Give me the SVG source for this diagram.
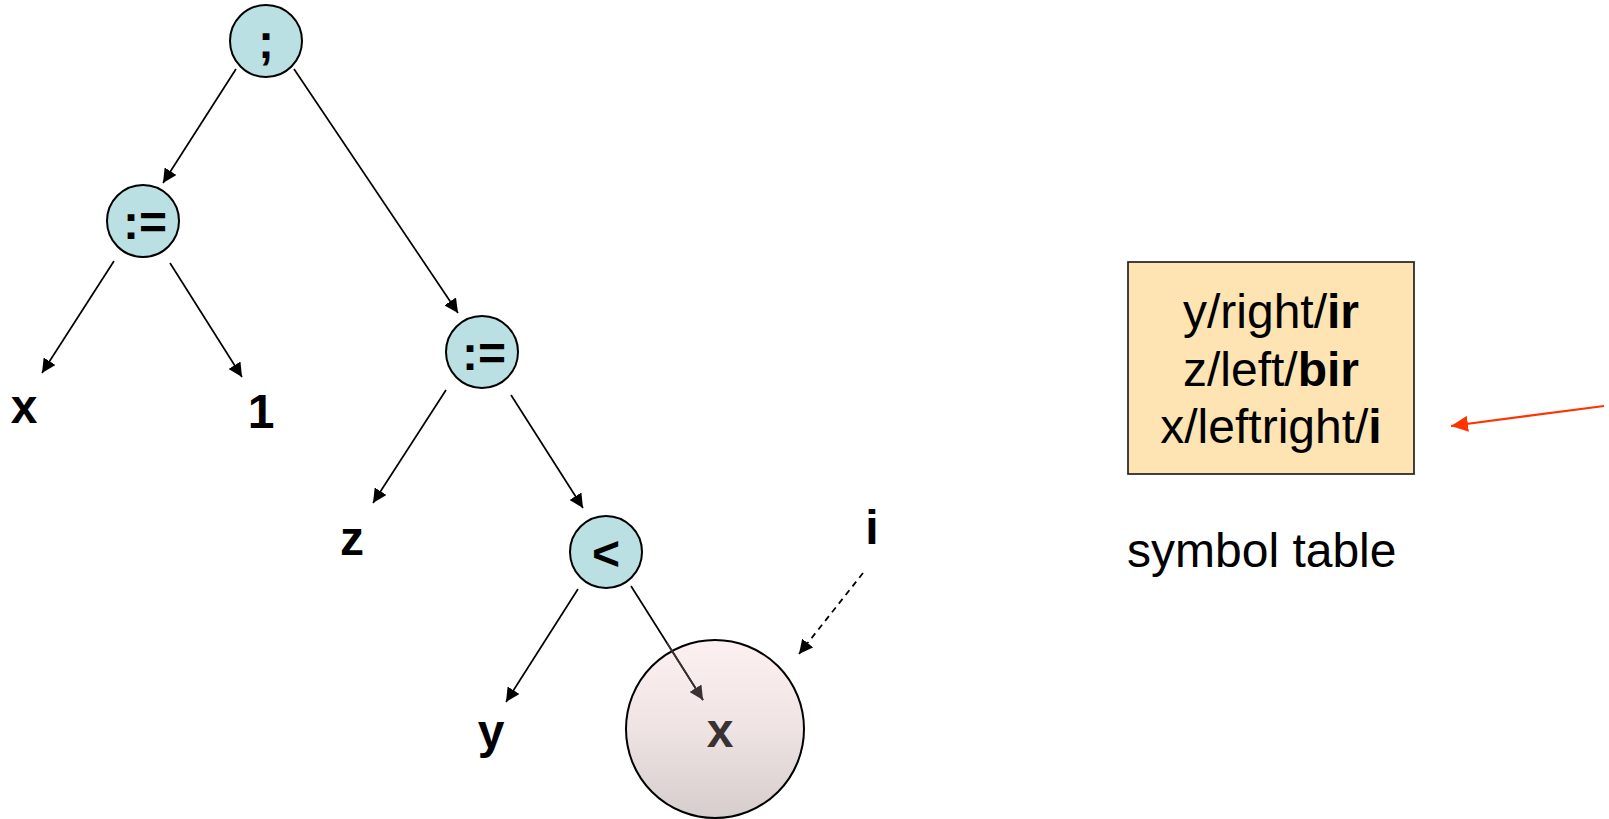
<svg xmlns="http://www.w3.org/2000/svg" width="1609" height="819" viewBox="0 0 1609 819">
<style>
.op{fill:#bae0e3;stroke:#000;stroke-width:2}
.lbl{font-family:"Liberation Sans",Arial,sans-serif;font-weight:bold;font-size:48px;fill:#000;text-anchor:middle}
.edge{stroke:#000;stroke-width:1.7;fill:none;marker-end:url(#ah)}
.tbl{font-family:"Liberation Sans",Arial,sans-serif;font-size:48px;fill:#000}
</style>
<defs>
<marker id="ah" markerUnits="userSpaceOnUse" markerWidth="15" markerHeight="14" refX="14" refY="7" orient="auto">
<path d="M0,0 L14,7 L0,14 z" fill="#000"/>
</marker>
<marker id="ahd" markerUnits="userSpaceOnUse" markerWidth="15" markerHeight="14" refX="14" refY="7" orient="auto">
<path d="M0,0 L14,7 L0,14 z" fill="#3a3232"/>
</marker>
<marker id="ahr" markerUnits="userSpaceOnUse" markerWidth="18" markerHeight="16" refX="17" refY="8" orient="auto">
<path d="M0,0 L17,8 L0,16 z" fill="#ff3300"/>
</marker>
<linearGradient id="pink" x1="0" y1="0" x2="0" y2="1">
<stop offset="0" stop-color="#fcf0f0"/>
<stop offset="0.5" stop-color="#efe3e3"/>
<stop offset="1" stop-color="#d6cdcd"/>
</linearGradient>
</defs>

<g id="node-root"><circle class="op" cx="266" cy="41" r="36"/><text class="lbl" x="266" y="58">;</text></g>
<g id="node-assign1"><circle class="op" cx="143" cy="221" r="36"/><text class="lbl" x="145" y="239">:=</text></g>
<g id="node-assign2"><circle class="op" cx="482" cy="352" r="36"/><text class="lbl" x="484" y="370">:=</text></g>
<g id="node-lt"><circle class="op" cx="606" cy="552" r="36"/><text class="lbl" x="606" y="570">&lt;</text></g>
<g id="node-x1"><text class="lbl" x="24" y="423">x</text></g>
<g id="node-one"><text class="lbl" x="261" y="428">1</text></g>
<g id="node-z"><text class="lbl" x="352" y="555">z</text></g>
<g id="node-y"><text class="lbl" x="491" y="748">y</text></g>
<g id="node-i"><text class="lbl" x="872" y="544">i</text></g>
<g id="node-x2"><circle cx="715" cy="729" r="89" fill="url(#pink)" stroke="#000" stroke-width="2"/><text class="lbl" x="720" y="747" style="fill:#3a3232">x</text></g>
<g id="node-table">
<rect x="1128" y="262" width="286" height="212" fill="#fee4b3" stroke="#222" stroke-width="1.7"/>
<text class="tbl" x="1271" y="328" text-anchor="middle">y/right/<tspan font-weight="bold">ir</tspan></text>
<text class="tbl" x="1271" y="386" text-anchor="middle">z/left/<tspan font-weight="bold">bir</tspan></text>
<text class="tbl" x="1271" y="443" text-anchor="middle">x/leftright/<tspan font-weight="bold">i</tspan></text>
</g>
<g id="label-symtab"><text class="tbl" x="1127" y="567">symbol table</text></g>

<g id="connectors">
<line class="edge" x1="236" y1="69" x2="163" y2="183"/>
<line class="edge" x1="294" y1="69" x2="458" y2="313"/>
<line class="edge" x1="114" y1="261" x2="42" y2="373"/>
<line class="edge" x1="170" y1="263" x2="242" y2="377"/>
<line class="edge" x1="446" y1="390" x2="373" y2="503"/>
<line class="edge" x1="511" y1="395" x2="583" y2="508"/>
<line class="edge" x1="578" y1="589" x2="506" y2="702"/>
<line x1="631" y1="586" x2="703" y2="700" stroke="#000" stroke-width="1.7"/>
<line x1="667" y1="643" x2="703" y2="700" stroke="#3a3232" stroke-width="1.7" marker-end="url(#ahd)"/>
<line x1="863" y1="573" x2="799" y2="654" stroke="#000" stroke-width="1.8" stroke-dasharray="6,5" marker-end="url(#ah)"/>
<line x1="1604" y1="406" x2="1451" y2="426" stroke="#ff3300" stroke-width="2.2" marker-end="url(#ahr)"/>
</g>
</svg>
